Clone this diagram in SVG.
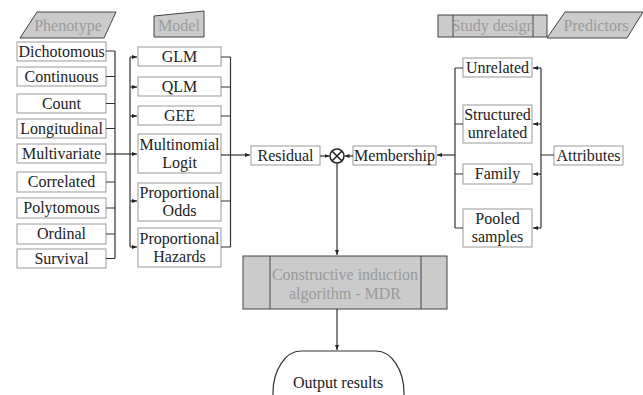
<svg xmlns="http://www.w3.org/2000/svg" width="643" height="395" viewBox="0 0 643 395">
<style>
.box{fill:#fff;stroke:#999;stroke-width:1}
.gs{fill:#cbcbcb;stroke:#444;stroke-width:1}
text{font-family:'Liberation Serif','Times New Roman',Times,serif;font-size:16px;fill:#222;text-anchor:middle}
.g{fill:#9a9a9a}
.c{fill:none;stroke:#333;stroke-width:1.2}
</style>
<defs>
<marker id="a" viewBox="0 0 10 10" refX="10" refY="5" markerWidth="5" markerHeight="5" orient="auto" markerUnits="userSpaceOnUse">
<path d="M0,1 L10,5 L0,9 z" fill="#222"/>
</marker>
</defs>
<g font-family="Liberation Serif, serif">
<g id="phenotype"><polygon class="gs" points="37,12 116,12 104,38 20,38"/><text class="g" x="68" y="31">Phenotype</text></g>
<g id="model"><polygon class="gs" points="154,16 204,11 204,37 154,37"/><text class="g" x="179" y="31">Model</text></g>
<g id="studydesign"><rect class="gs" x="438" y="15" width="109" height="22"/><line x1="453" y1="15" x2="453" y2="37" stroke="#444"/><line x1="533" y1="15" x2="533" y2="37" stroke="#444"/><text class="g" x="493" y="31">Study design</text></g>
<g id="predictors"><polygon class="gs" points="565,12 643,12 627,38 547,38"/><text class="g" x="596" y="31">Predictors</text></g>

<g id="dichotomous"><rect class="box" x="17" y="42" width="89" height="19"/><text x="61.5" y="57">Dichotomous</text></g>
<g id="continuous"><rect class="box" x="17" y="67" width="89" height="19"/><text x="61.5" y="82">Continuous</text></g>
<g id="count"><rect class="box" x="17" y="94" width="89" height="19"/><text x="61.5" y="109">Count</text></g>
<g id="longitudinal"><rect class="box" x="17" y="119" width="89" height="19"/><text x="61.5" y="134">Longitudinal</text></g>
<g id="multivariate"><rect class="box" x="17" y="144" width="89" height="19"/><text x="61.5" y="159">Multivariate</text></g>
<g id="correlated"><rect class="box" x="17" y="172" width="89" height="20"/><text x="61.5" y="187">Correlated</text></g>
<g id="polytomous"><rect class="box" x="17" y="198" width="89" height="20"/><text x="61.5" y="213">Polytomous</text></g>
<g id="ordinal"><rect class="box" x="17" y="224" width="89" height="20"/><text x="61.5" y="239">Ordinal</text></g>
<g id="survival"><rect class="box" x="17" y="249" width="89" height="19"/><text x="61.5" y="264">Survival</text></g>

<g id="glm"><rect class="box" x="138" y="47" width="83" height="19"/><text x="179.5" y="62">GLM</text></g>
<g id="qlm"><rect class="box" x="138" y="77" width="83" height="19"/><text x="179.5" y="92">QLM</text></g>
<g id="gee"><rect class="box" x="138" y="106" width="83" height="19"/><text x="179.5" y="121">GEE</text></g>
<g id="multinomial"><rect class="box" x="138" y="134" width="83" height="39"/><text x="179.5" y="150">Multinomial</text><text x="179.5" y="168">Logit</text></g>
<g id="propodds"><rect class="box" x="138" y="183" width="83" height="38"/><text x="179.5" y="198">Proportional</text><text x="179.5" y="216">Odds</text></g>
<g id="prophazards"><rect class="box" x="138" y="228" width="83" height="39"/><text x="179.5" y="244">Proportional</text><text x="179.5" y="262">Hazards</text></g>

<g id="residual"><rect class="box" x="251" y="146" width="69" height="19"/><text x="285.5" y="161">Residual</text></g>
<g id="otimes"><circle cx="337" cy="156" r="7" fill="#fff" stroke="#222" stroke-width="1.5"/><path d="M332,151 L342,161 M342,151 L332,161" stroke="#222" stroke-width="1.5"/></g>
<g id="membership"><rect class="box" x="353" y="146" width="83" height="19"/><text x="394.5" y="161">Membership</text></g>

<g id="unrelated"><rect class="box" x="463" y="58" width="69" height="19"/><text x="497.5" y="73">Unrelated</text></g>
<g id="structured"><rect class="box" x="463" y="105" width="69" height="38"/><text x="497.5" y="120">Structured</text><text x="497.5" y="138">unrelated</text></g>
<g id="family"><rect class="box" x="463" y="164" width="69" height="20"/><text x="497.5" y="179">Family</text></g>
<g id="pooled"><rect class="box" x="463" y="209" width="69" height="38"/><text x="497.5" y="224">Pooled</text><text x="497.5" y="242">samples</text></g>
<g id="attributes"><rect class="box" x="554" y="146" width="69" height="19"/><text x="588.5" y="161">Attributes</text></g>

<g id="mdr"><rect class="gs" x="243" y="256" width="204" height="53" fill="#d0d0d0"/><line x1="270" y1="256" x2="270" y2="309" stroke="#444"/><line x1="421" y1="256" x2="421" y2="309" stroke="#444"/><text class="g" x="345" y="280">Constructive induction</text><text class="g" x="345" y="299">algorithm - MDR</text></g>
<g id="output"><rect x="273" y="351" width="131" height="90" rx="28" ry="42" fill="#fff" stroke="#333" stroke-width="1.2"/><text x="338" y="388">Output results</text></g>
</g>
<g id="connectors">
<path class="c" d="M106,51 H115 M106,76.5 H115 M106,103.5 H115 M106,128.5 H115 M106,182 H115 M106,208 H115 M106,234 H115 M106,258.5 H115 M115,51 V258.5"/>
<path class="c" d="M106,154 H137" marker-end="url(#a)"/>
<path class="c" d="M130,57 V247"/>
<path class="c" d="M130,57 H137" marker-end="url(#a)"/>
<path class="c" d="M130,87 H137" marker-end="url(#a)"/>
<path class="c" d="M130,116 H137" marker-end="url(#a)"/>
<path class="c" d="M130,201 H137" marker-end="url(#a)"/>
<path class="c" d="M130,247 H137" marker-end="url(#a)"/>
<path class="c" d="M221,57 H230.5 M221,87 H230.5 M221,116 H230.5 M221,201 H230.5 M221,247 H230.5 M230.5,57 V247"/>
<path class="c" d="M221,155 H250" marker-end="url(#a)"/>
<path class="c" d="M320,156 H329.5" marker-end="url(#a)"/>
<path class="c" d="M353,156 H344.5" marker-end="url(#a)"/>
<path class="c" d="M337,163 V255" marker-end="url(#a)"/>
<path class="c" d="M337,309 V350" marker-end="url(#a)"/>
<path class="c" d="M463,68 H455 M463,124 H455 M463,174 H455 M463,228 H455 M455,68 V228"/>
<path class="c" d="M455,155 H437" marker-end="url(#a)"/>
<path class="c" d="M541,68 V228 M554,155 H541"/>
<path class="c" d="M541,68 H533" marker-end="url(#a)"/>
<path class="c" d="M541,124 H533" marker-end="url(#a)"/>
<path class="c" d="M541,174 H533" marker-end="url(#a)"/>
<path class="c" d="M541,228 H533" marker-end="url(#a)"/>
</g>
</svg>
